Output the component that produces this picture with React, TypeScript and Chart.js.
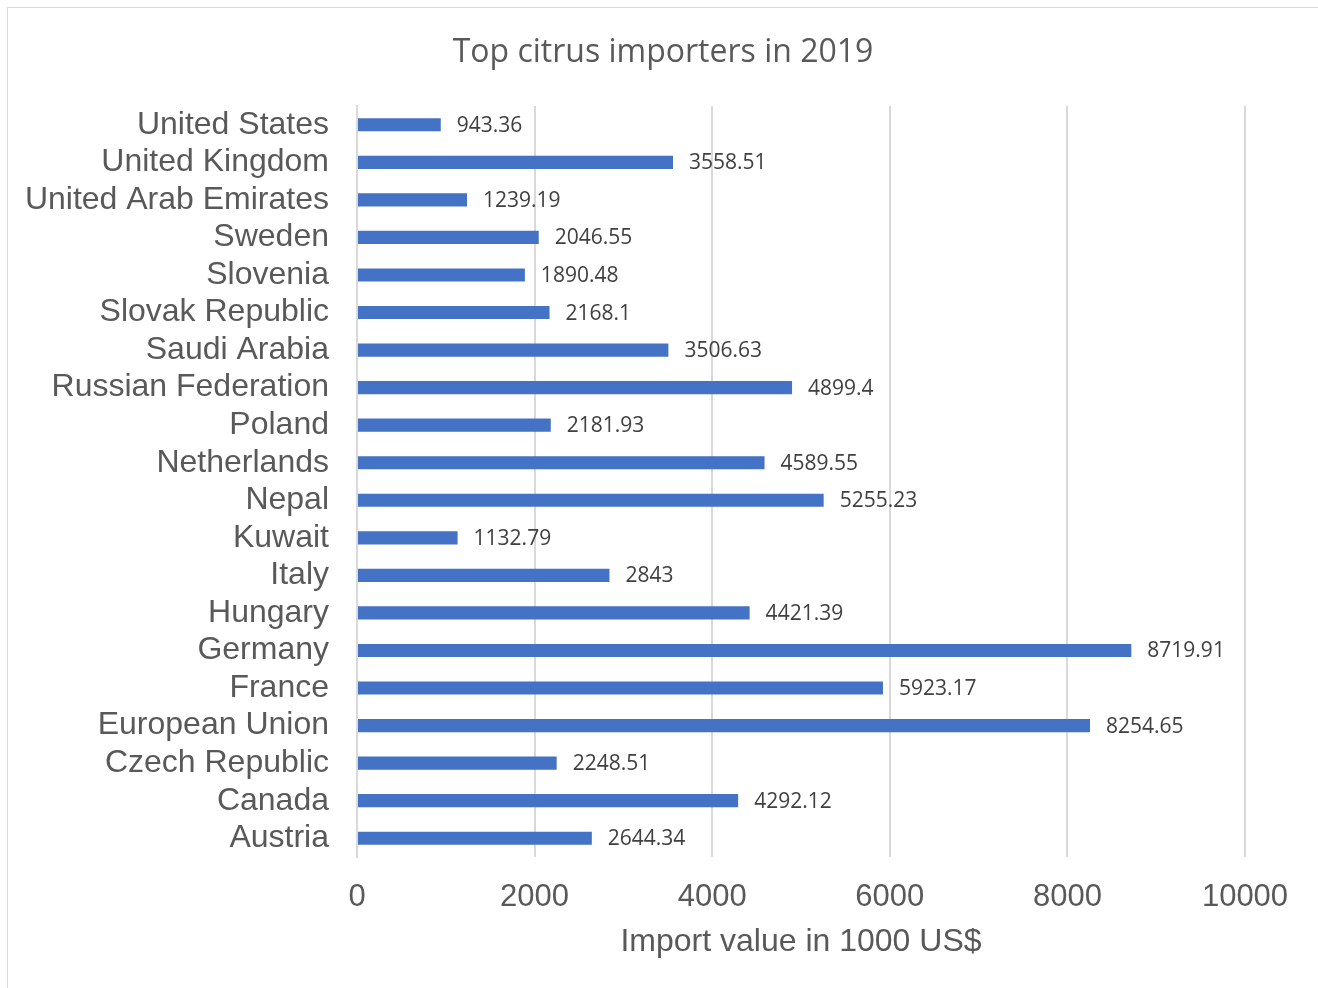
import React, { useEffect, useRef } from "react";
import { Chart, registerables } from "chart.js";

Chart.register(...registerables);

const categories: string[] = [
  "United States",
  "United Kingdom",
  "United Arab Emirates",
  "Sweden",
  "Slovenia",
  "Slovak Republic",
  "Saudi Arabia",
  "Russian Federation",
  "Poland",
  "Netherlands",
  "Nepal",
  "Kuwait",
  "Italy",
  "Hungary",
  "Germany",
  "France",
  "European Union",
  "Czech Republic",
  "Canada",
  "Austria",
];

const importValues: number[] = [
  943.36, 3558.51, 1239.19, 2046.55, 1890.48, 2168.1, 3506.63, 4899.4, 2181.93,
  4589.55, 5255.23, 1132.79, 2843, 4421.39, 8719.91, 5923.17, 8254.65, 2248.51,
  4292.12, 2644.34,
];

const valueLabels: string[] = [
  "943.36", "3558.51", "1239.19", "2046.55", "1890.48", "2168.1", "3506.63",
  "4899.4", "2181.93", "4589.55", "5255.23", "1132.79", "2843", "4421.39",
  "8719.91", "5923.17", "8254.65", "2248.51", "4292.12", "2644.34",
];

const xTicks: number[] = [0, 2000, 4000, 6000, 8000, 10000];

const titleText = "Top citrus importers in 2019";
const xAxisTitle = "Import value in 1000 US$";

const W = 1310;
const H = 981;

const dataLabelPlugin = {
  id: "dataLabels",
  afterDatasetsDraw(chart: any) {
    const ctx = chart.ctx;
    const meta = chart.getDatasetMeta(0);
    ctx.save();
    ctx.font = "21px 'Open Sans', sans-serif";
    ctx.fillStyle = "#404040";
    ctx.textAlign = "left";
    ctx.textBaseline = "middle";
    meta.data.forEach((el: any, i: number) => {
      ctx.fillText(valueLabels[i], el.x + 16, el.y + 1);
    });
    ctx.restore();
  },
};

const centeredTitlePlugin = {
  id: "centeredTitle",
  afterDraw(chart: any) {
    const ctx = chart.ctx;
    ctx.save();
    ctx.font = "32px 'Open Sans', sans-serif";
    ctx.fillStyle = "#595959";
    ctx.textAlign = "center";
    ctx.textBaseline = "middle";
    ctx.fillText(titleText, chart.width / 2, 45);
    ctx.restore();
  },
};

export default function App() {
  const ref = useRef<HTMLCanvasElement>(null);
  useEffect(() => {
    if (!ref.current) return;
    const chart = new Chart(ref.current, {
      type: "bar",
      data: {
        labels: categories,
        datasets: [
          {
            data: importValues,
            backgroundColor: "#4472C4",
            borderWidth: 0,
            barPercentage: 0.7,
            categoryPercentage: 0.5,
          },
        ],
      },
      options: {
        indexAxis: "y",
        animation: false,
        responsive: false,
        maintainAspectRatio: false,
        layout: { padding: { left: 0, right: 73, top: 98, bottom: 0 } },
        plugins: {
          legend: { display: false },
          tooltip: { enabled: false },
          title: { display: false },
        },
        scales: {
          x: {
            min: 0,
            max: 10000,
            afterBuildTicks: (scale: any) => {
              scale.ticks = xTicks.map((v) => ({ value: v }));
            },
            afterFit: (scale: any) => {
              scale.height = 132;
            },
            grid: {
              color: "#d9d9d9",
              lineWidth: 2,
              drawTicks: false,
            },
            border: { display: false },
            ticks: {
              color: "#595959",
              font: { family: "'Liberation Sans', Arial, sans-serif", size: 31 },
              padding: 22,
              callback: (v: any) => String(v),
            },
            title: {
              display: true,
              text: xAxisTitle,
              color: "#595959",
              font: { family: "'Liberation Sans', Arial, sans-serif", size: 32 },
              padding: { top: 0, bottom: 28 },
            },
          },
          y: {
            afterFit: (scale: any) => {
              scale.width = 349;
            },
            grid: { display: false, drawTicks: false },
            border: { display: true, color: "#d9d9d9", width: 2 },
            ticks: {
              color: "#595959",
              font: { family: "'Liberation Sans', Arial, sans-serif", size: 32 },
              padding: 28,
              autoSkip: false,
            },
          },
        },
      },
      plugins: [dataLabelPlugin, centeredTitlePlugin],
    } as any);
    return () => chart.destroy();
  }, []);

  return (
    <div
      style={{
        position: "absolute",
        left: 7,
        top: 7,
        width: W,
        height: H,
        border: "1px solid #d9d9d9",
        borderBottom: "none",
        background: "#fff",
        boxSizing: "content-box",
      }}
    >
      <canvas ref={ref} width={W} height={H} style={{ display: "block" }} />
    </div>
  );
}
